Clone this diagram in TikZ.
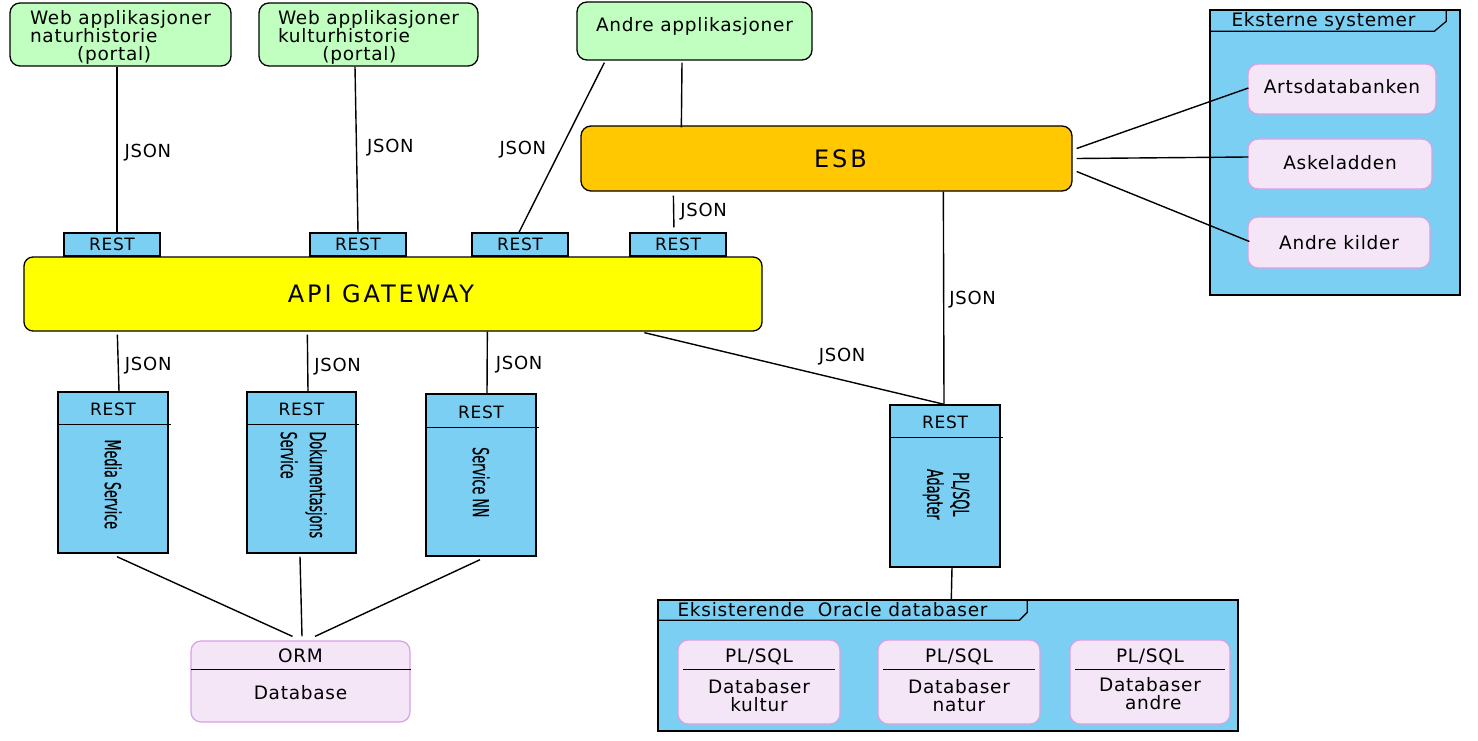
\documentclass[tikz,border=0pt]{standalone}
\usepackage{fontspec}
\setmainfont{DejaVu Sans}[LetterSpace=4]
\newfontfamily\bigf{DejaVu Sans}[LetterSpace=12]
\newfontfamily\condf{DejaVu Sans}[FakeStretch=0.58,FakeBold=0.4]
\usetikzlibrary{calc}
\definecolor{appgreen}{HTML}{C0FFC0}
\definecolor{svcblue}{HTML}{7ACFF3}
\definecolor{esborange}{HTML}{FFC800}
\definecolor{apiyellow}{HTML}{FFFF00}
\definecolor{lavfill}{HTML}{F4E6F7}
\definecolor{lavline}{HTML}{D9A0E6}
\tikzset{
  sz/.style 2 args={minimum width=#1pt,minimum height=#2pt,inner sep=0pt},
  base/.style={font=\fontsize{18.5}{18}\selectfont},
  appbox/.style={base,draw=black,line width=1.3pt,fill=appgreen,rounded corners=10pt},
  esbbox/.style={draw=black,line width=1.3pt,fill=esborange,rounded corners=10pt,font=\bigf\fontsize{24}{26}\selectfont},
  apibox/.style={draw=black,line width=1.3pt,fill=apiyellow,rounded corners=9pt,font=\bigf\fontsize{24}{26}\selectfont},
  bluebox/.style={draw=black,line width=1.4pt,fill=svcblue},
  restlbl/.style={font=\fontsize{17}{18}\selectfont,inner sep=0pt},
  lavbox/.style={base,draw=lavline,line width=1.2pt,fill=lavfill,rounded corners=10pt},
  txt/.style={base,inner sep=0pt},
  rot/.style={font=\condf\fontsize{22}{29}\selectfont,rotate=-90,inner sep=0pt},
  json/.style={font=\fontsize{18}{18}\selectfont,inner sep=0pt},
  conn/.style={draw=black,line width=1.4pt},
  divider/.style={draw=black,line width=1.2pt},
}
\begin{document}
\begin{tikzpicture}[x=1pt,y=-1pt]
\useasboundingbox (0,0) rectangle (1478,741);

% top applications
\node[appbox,sz={221}{63},label={[base,align=left,yshift=-2.5pt]center:Web applikasjoner\\naturhistorie\\\hspace*{2.55em}(portal)}] (webnat) at (120.5,34.5) {};
\node[appbox,sz={219}{63},label={[base,align=left,yshift=-2.5pt]center:Web applikasjoner\\kulturhistorie\\\hspace*{2.4em}(portal)}] (webkult) at (368.5,34.5) {};
\node[appbox,sz={235}{58},label={[base,yshift=5pt]center:Andre applikasjoner}] (andre) at (694.5,31) {};

% ESB and API gateway
\node[esbbox,sz={491}{65}] (esb) at (826.5,158.5) {\hspace*{28pt}ESB};
\node[apibox,sz={738}{74}] (api) at (393,294) {API GATEWAY\hspace*{24pt}};

% REST ports on gateway
\node[bluebox,sz={96}{23},restlbl] (r1) at (112,244.5) {REST};
\node[bluebox,sz={96}{23},restlbl] (r2) at (358,244.5) {REST};
\node[bluebox,sz={96}{23},restlbl] (r3) at (520,244.5) {REST};
\node[bluebox,sz={96}{23},restlbl] (r4) at (678,244.5) {REST};

% external systems frame
\node[bluebox,sz={250}{285}] (ext) at (1335,152.5) {};
\draw[line width=1.3pt] ($(ext.north west)+(0,22)$) -- ($(ext.north west)+(225,22)$)
  -- ($(ext.north west)+(237,12)$) -- ($(ext.north west)+(237,0)$);
\node[txt,anchor=west] (extlbl) at ($(ext.north west)+(22,12)$) {Eksterne systemer};
\node[lavbox,sz={188}{50}] (arts) at (1342,89) {\raisebox{5pt}{Artsdatabanken}};
\node[lavbox,sz={184}{50}] (ask) at (1340,164) {\raisebox{3pt}{Askeladden}};
\node[lavbox,sz={182}{51}] (kilder) at (1339,242.5) {Andre kilder};

% services
\node[bluebox,sz={110}{161}] (media) at (113,472.5) {};
\draw[divider] ($(media.north west)+(0,33)$) -- ($(media.north east)+(2,33)$);
\node[restlbl] (mediarest) at ($(media.north)+(0,18)$) {REST};
\node[rot] (medialbl) at ($(media.north)+(0,93)$) {Media Service};

\node[bluebox,sz={109}{161}] (doc) at (301.5,472.5) {};
\draw[divider] ($(doc.north west)+(0,33)$) -- ($(doc.north east)+(2,33)$);
\node[restlbl] (docrest) at ($(doc.north)+(0,18)$) {REST};
\node[rot,align=left,anchor=west] (doclbl) at ($(doc.north)+(2,40)$) {Dokumentasjons\\Service};

\node[bluebox,sz={110}{162}] (nn) at (481,475) {};
\draw[divider] ($(nn.north west)+(0,34)$) -- ($(nn.north east)+(2,34)$);
\node[restlbl] (nnrest) at ($(nn.north)+(0,19)$) {REST};
\node[rot] (nnlbl) at ($(nn.north)+(0,89)$) {Service NN};

\node[bluebox,sz={110}{162}] (adp) at (945,486) {};
\draw[divider] ($(adp.north west)+(0,33)$) -- ($(adp.north east)+(2,33)$);
\node[restlbl] (adprest) at ($(adp.north)+(0,18)$) {REST};
\node[rot,align=center,font=\condf\fontsize{22}{26}\selectfont] (adplbl) at ($(adp.north)+(1,90)$) {PL/SQL\\Adapter};

% ORM database
\node[lavbox,sz={219}{81}] (orm) at (300.5,681.5) {};
\draw[divider] ($(orm.north west)+(1,29)$) -- ($(orm.north east)+(0,29)$);
\node[txt] (ormt) at ($(orm.north)+(0,15)$) {ORM};
\node[txt] (ormb) at ($(orm.north)+(0,52)$) {Database};

% Oracle frame
\node[bluebox,sz={580}{131}] (oracle) at (948,665.5) {};
\draw[line width=1.3pt] ($(oracle.north west)+(0,21)$) -- ($(oracle.north west)+(362,21)$)
  -- ($(oracle.north west)+(370,13)$) -- ($(oracle.north west)+(370,0)$);
\node[txt,anchor=west] (oralbl) at ($(oracle.north west)+(20,10)$) {Eksisterende\ \ Oracle databaser};

\node[lavbox,sz={162}{84}] (dbk) at (759,682) {};
\node[txt] (dbkt) at ($(dbk.north)+(0,17)$) {PL/SQL};
\draw[divider] ($(dbk.north west)+(6,30)$) -- ($(dbk.north east)+(-6,30)$);
\node[txt,align=center] (dbkb) at ($(dbk.north)+(0,56)$) {Databaser\\kultur};

\node[lavbox,sz={162}{84}] (dbn) at (959,682) {};
\node[txt] (dbnt) at ($(dbn.north)+(0,17)$) {PL/SQL};
\draw[divider] ($(dbn.north west)+(6,30)$) -- ($(dbn.north east)+(-6,30)$);
\node[txt,align=center] (dbnb) at ($(dbn.north)+(0,56)$) {Databaser\\natur};

\node[lavbox,sz={160}{84}] (dba) at (1150,682) {};
\node[txt] (dbat) at ($(dba.north)+(0,17)$) {PL/SQL};
\draw[divider] ($(dba.north west)+(6,30)$) -- ($(dba.north east)+(-6,30)$);
\node[txt,align=center] (dbab) at ($(dba.north)+(0,54)$) {Databaser\\\ andre};

% connectors
\draw[conn] ($(webnat.south)+(-3.5,0)$) -- node[json,right=7pt,pos=0.52] (j1) {JSON} ($(r1.north)+(5,0)$);
\draw[conn] ($(webkult.south)+(-13.5,0)$) -- node[json,right=10pt,pos=0.49] (j2) {JSON} ($(r2.north)+(0,0)$);
\draw[conn] ($(andre.south west)+(28,2)$) -- node[json,left=14pt,pos=0.51] (j3) {JSON} ($(r3.north)+(-1,0)$);
\draw[conn] ($(andre.south)+(-12.5,2)$) -- ($(esb.north west)+(101,2)$);
\draw[conn,shorten <=4pt,shorten >=5pt] ($(esb.south west)+(93,0)$) -- node[json,right=6pt,pos=0.5] (j4) {JSON} ($(r4.north)+(-4,0)$);
\draw[conn] ($(esb.east)+(4,-10)$) -- ($(arts.west)+(1,-1)$);
\draw[conn] ($(esb.east)+(4,0)$) -- ($(ask.west)+(1,-7)$);
\draw[conn] ($(esb.east)+(4,13)$) -- ($(kilder.west)+(2,-1)$);
\draw[conn] ($(esb.south west)+(363,0)$) -- node[json,right=5pt,pos=0.51] (j5) {JSON} ($(adp.north)+(-1,0)$);
\draw[conn] ($(api.south west)+(94,3)$) -- node[json,right=6pt,pos=0.55] (j6) {JSON} ($(media.north)+(6,0)$);
\draw[conn] ($(api.south west)+(284,3)$) -- node[json,right=6pt,pos=0.57] (j7) {JSON} ($(doc.north)+(6.5,0)$);
\draw[conn] ($(api.south west)+(464,0)$) -- node[json,right=8pt,pos=0.53] (j8) {JSON} ($(nn.north)+(6,0)$);
\draw[conn] ($(api.south west)+(621,1)$) -- node[json,above=14pt,pos=0.66] (j9) {JSON} ($(adp.north)+(-1,0)$);
\draw[conn] ($(media.south)+(4,3)$) -- ($(orm.north)+(-8,-4)$);
\draw[conn] ($(doc.south)+(-1.5,3)$) -- ($(orm.north)+(1.5,-4)$);
\draw[conn] ($(nn.south)+(-1,3)$) -- ($(orm.north)+(14.5,-4)$);
\draw[conn] ($(adp.south)+(7,0)$) -- ($(oracle.north west)+(294,0)$);
\end{tikzpicture}
\end{document}
